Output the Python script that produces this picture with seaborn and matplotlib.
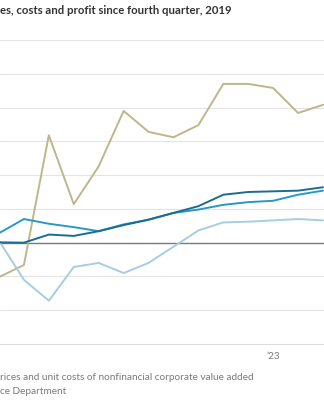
import numpy as np
import pandas as pd
import matplotlib
matplotlib.use("Agg")
import matplotlib.pyplot as plt
import seaborn as sns

# Quarterly data, change since Q4 2019 (percent)
quarters = ["2019Q4", "2020Q1", "2020Q2", "2020Q3", "2020Q4", "2021Q1", "2021Q2",
            "2021Q3", "2021Q4", "2022Q1", "2022Q2", "2022Q3", "2022Q4", "2023Q1", "2023Q2"]
unit_profits = [0, -5.1, -3.3, 15.9, 5.7, 11.3, 19.5, 16.4, 15.6, 17.4, 23.5, 23.5, 22.9, 19.2, 20.4]
prices = [0, 0.05, 0.0, 1.2, 1.0, 1.7, 2.6, 3.4, 4.4, 5.4, 7.1, 7.5, 7.6, 7.7, 8.2]
unit_labor_costs = [0, 1.4, 3.5, 2.8, 2.3, 1.7, 2.7, 3.4, 4.4, 4.9, 5.6, 6.0, 6.2, 7.1, 7.7]
unit_nonlabor_costs = [0, 0.3, -5.5, -8.6, -3.6, -3.0, -4.5, -3.0, -0.6, 1.8, 3.0, 3.1, 3.3, 3.5, 3.3]

series_names = ["Unit profits", "Unit nonlabor costs", "Unit labor costs", "Prices"]
series_values = [unit_profits, unit_nonlabor_costs, unit_labor_costs, prices]
series_colors = ["#bdb78c", "#a7cde2", "#2a98c6", "#1c6c92"]

tick_positions = [4, 8, 12]
tick_labels = ["", "", "\u201923"]

title_text = "es, costs and profit since fourth quarter, 2019"
note_text = "rices and unit costs of nonfinancial corporate value added"
source_text = "ce Department"

rows = []
for name, vals in zip(series_names, series_values):
    for i, (q, v) in enumerate(zip(quarters, vals)):
        rows.append({"q": i, "quarter": q, "series": name, "value": v})
df = pd.DataFrame(rows)

sns.set_style("white")
plt.rcParams["font.family"] = ["Lato", "DejaVu Sans"]

fig = plt.figure(figsize=(3.24, 4.0), dpi=100)
H = 400.0
ax_bottom = (H - 344) / H
ax_top = (H - 40) / H
ax = fig.add_axes([0, ax_bottom, 1, ax_top - ax_bottom])

for y in range(-10, 31, 5):
    if y == 0:
        continue
    ax.axhline(y, color="#e4e4e4", lw=0.8, zorder=0)
ax.axhline(0, color="#7a7a7a", lw=1.0, zorder=1)

sns.lineplot(data=df, x="q", y="value", hue="series", hue_order=series_names,
             palette=series_colors, lw=1.4, legend=False, ax=ax, zorder=3)

ax.set_xlim(1.04, 14.04)
ax.set_ylim(-15, 30)
for s in ["top", "right", "left"]:
    ax.spines[s].set_visible(False)
ax.spines["bottom"].set_color("#dcdcdc")
ax.spines["bottom"].set_linewidth(0.8)
ax.set_yticks([])
ax.set_xticks(tick_positions)
ax.set_xticklabels(tick_labels)
ax.tick_params(axis="x", direction="inout", length=3, width=0.6, color="#999999",
               labelsize=7, labelcolor="#777777", pad=4)
ax.set_xlabel("")
ax.set_ylabel("")

fig.text(0.0, (H - 10) / H, title_text, ha="left", va="center", fontsize=8.2,
         fontweight="bold", color="#333333")
fig.text(0.0, (H - 378) / H, note_text, ha="left", va="center", fontsize=7.2,
         color="#7a7a7a")
fig.text(0.0, (H - 392) / H, source_text, ha="left", va="center", fontsize=7.2,
         color="#7a7a7a")

fig.savefig("out.png", dpi=100)
